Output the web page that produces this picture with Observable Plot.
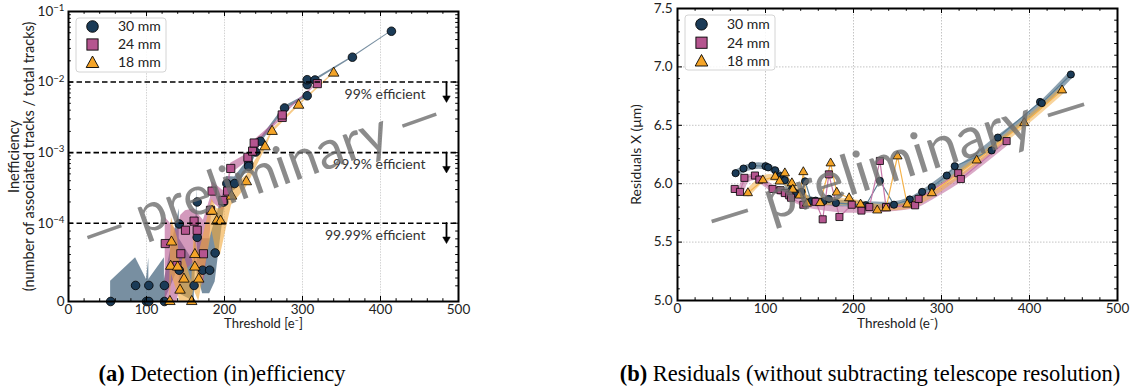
<!DOCTYPE html>
<html><head><meta charset="utf-8">
<script src="https://cdn.jsdelivr.net/npm/d3@7"></script>
<script src="https://cdn.jsdelivr.net/npm/@observablehq/plot@0.6"></script>
<style>
body{margin:0;background:#fff;}
#wrap{position:relative;width:1145px;height:392px;overflow:hidden;font-family:Lato,sans-serif;}
.panel{position:absolute;top:0;}
.legend{position:absolute;}
.caption{position:absolute;top:361px;font-family:"Liberation Serif","Times New Roman",serif;font-size:22.5px;line-height:26px;white-space:nowrap;transform:translateX(-50%);color:#000;}
</style></head><body><div id="wrap"></div>
<script>
// ---------- shared ----------
const seriesNames = ["30 mm", "24 mm", "18 mm"];
const seriesFill = ["#1b3b57", "#b5558f", "#f4a428"];
const seriesBand = ["#1e4562", "#b5558f", "#f2a93b"];
const seriesThin = ["#5d7f95", "#c878aa", "#f5b34c"];
const xTicks = [0, 100, 200, 300, 400, 500];
const xGrid = [100, 200, 300, 400];

// ---------- panel (a): detection inefficiency ----------
const effThr30 = [54,86,100,103,103,123,123,142,142,161,165,165,172,181,188,199,203,213,231,231,240,246,277,306,306,306,316,364,414];
const effVal30 = [0,2.05e-5,0,2.05e-5,0,2.05e-5,0,9.9e-5,4.0e-5,2.05e-5,2.0e-4,8.2e-5,4.0e-5,4.0e-5,6.2e-5,2.0e-4,3.65e-4,3.65e-4,7.0e-4,6.4e-4,1.02e-3,1.45e-3,4.3e-3,6.4e-3,9.2e-3,1.08e-2,1.07e-2,2.25e-2,5.25e-2];
const effLo30  = [0,0,0,0,0,0,0,4.5e-5,1e-5,0,1.1e-4,3.5e-5,1e-5,1e-5,2.5e-5,1.4e-4,2.8e-4,2.9e-4,6.0e-4,5.5e-4,9.2e-4,1.33e-3,4.05e-3,6.1e-3,8.85e-3,1.04e-2,1.03e-2,2.19e-2,5.15e-2];
const effHi30  = [2.6e-5,5.6e-5,2.8e-5,5.6e-5,2.8e-5,5.6e-5,2.8e-5,1.6e-4,8e-5,5e-5,3.2e-4,1.3e-4,8e-5,8e-5,1.1e-4,2.8e-4,4.6e-4,4.5e-4,8.1e-4,7.4e-4,1.12e-3,1.58e-3,4.55e-3,6.7e-3,9.55e-3,1.12e-2,1.11e-2,2.31e-2,5.35e-2];

const effThr24 = [124,139,144,150,161,165,173,182,184,198,204,208,230,236,238,274,274,319];
const effVal24 = [7.4e-5,4.6e-5,6.1e-5,9.1e-5,1.07e-4,9.1e-5,6.1e-5,1.52e-4,2.85e-4,2.1e-4,2.85e-4,5.97e-4,8.6e-4,1.05e-3,1.37e-3,3.15e-3,3.42e-3,9.5e-3];
const effLo24  = [0,0,2e-5,4e-5,5e-5,4e-5,2e-5,9e-5,2e-4,1.5e-4,2.2e-4,5e-4,7.6e-4,9.5e-4,1.26e-3,3.0e-3,3.27e-3,9.2e-3];
const effHi24  = [1.2e-4,9e-5,1.3e-4,1.5e-4,1.6e-4,1.4e-4,1.1e-4,2.3e-4,3.9e-4,2.9e-4,3.7e-4,7.1e-4,9.7e-4,1.16e-3,1.49e-3,3.3e-3,3.57e-3,9.8e-3];

const effThr18 = [130,131,132,140,143,148,158,162,162,167,184,190,195,209,228,252,261,295,340];
const effVal18 = [0,4.5e-5,7.6e-5,4.4e-5,1.45e-5,2.86e-5,0,6.0e-5,4.4e-5,2.86e-5,1.48e-4,1.07e-4,1.07e-4,2.42e-4,3.87e-4,1.21e-3,2.0e-3,4.7e-3,1.34e-2];
const effLo18  = [0,1e-5,3.5e-5,1e-5,0,0,0,2.5e-5,1.2e-5,0,9e-5,6e-5,6e-5,1.8e-4,3.2e-4,1.1e-3,1.88e-3,4.5e-3,1.3e-2];
const effHi18  = [2.5e-5,8e-5,1.2e-4,8e-5,4e-5,6e-5,2.5e-5,1.05e-4,8e-5,6e-5,2.2e-4,1.6e-4,1.6e-4,3.2e-4,4.7e-4,1.33e-3,2.13e-3,4.9e-3,1.38e-2];

const effLevels = [1e-2, 1e-3, 1e-4];
const effLabels = ["99% efficient", "99.9% efficient", "99.99% efficient"];
const effYTicks = [0, 1e-4, 1e-3, 1e-2, 1e-1];
const effYLabels = ["0", "10^\u22124", "10^\u22123", "10^\u22122", "10^\u22121"];
const effYMinor = [2e-5,3e-5,4e-5,5e-5,6e-5,7e-5,8e-5,9e-5,
  2e-4,3e-4,4e-4,5e-4,6e-4,7e-4,8e-4,9e-4,
  2e-3,3e-3,4e-3,5e-3,6e-3,7e-3,8e-3,9e-3,
  2e-2,3e-2,4e-2,5e-2,6e-2,7e-2,8e-2,9e-2];

// ---------- panel (b): residuals ----------
const resThr30 = [66,75,85,100,103,111,117,122,130,134,141,145,152,157,166,172,180,214,230,246,264,278,289,306,315,357,364,412,414,447];
const resVal30 = [6.09,6.13,6.155,6.15,6.14,6.115,6.065,6.03,5.95,5.92,5.93,6.02,5.85,5.855,5.85,5.87,5.835,5.815,6.025,5.82,5.865,5.93,5.97,6.07,6.15,6.285,6.395,6.70,6.69,6.935];
const resThr24 = [65,71,76,88,93,108,117,122,127,129,143,157,165,172,184,198,209,218,230,237,270,274,319,322,374];
const resVal24 = [5.955,5.93,6.05,6.07,6.035,5.955,5.945,5.92,5.9,5.88,5.82,5.845,5.695,6.08,5.715,5.82,5.77,5.8,6.195,5.8,5.815,5.87,6.09,6.04,6.365];
const resThr18 = [80,97,111,116,122,130,131,139,143,147,162,174,181,195,208,227,237,250,261,289,340,394,437];
const resVal18 = [5.92,6.03,6.06,6.02,6.09,6.005,5.95,5.9,6.1,5.83,5.835,6.175,5.925,5.877,5.823,5.772,5.79,6.235,5.823,5.92,6.2,6.52,6.8];

const smoothThr30 = [66,80,92,104,116,128,140,155,175,200,225,245,265,285,305,330,360,390,415,447];
const smoothVal30 = [6.09,6.14,6.155,6.14,6.08,5.97,5.9,5.855,5.84,5.83,5.82,5.82,5.86,5.95,6.06,6.18,6.36,6.53,6.69,6.935];
const smoothThr24 = [65,71,77,88,95,108,120,130,145,165,190,215,240,270,290,320,374];
const smoothVal24 = [5.955,5.94,6.03,6.06,6.03,5.96,5.92,5.88,5.83,5.8,5.78,5.78,5.79,5.82,5.9,6.04,6.36];
const smoothThr18 = [80,90,100,112,122,132,145,160,180,200,225,245,265,290,340,394,437];
const smoothVal18 = [5.92,6.0,6.05,6.05,6.02,5.96,5.88,5.84,5.85,5.84,5.8,5.8,5.82,5.92,6.2,6.52,6.8];

const resYTicks = [5.0, 5.5, 6.0, 6.5, 7.0, 7.5];
const resYMinor = [5.1,5.2,5.3,5.4,5.6,5.7,5.8,5.9,6.1,6.2,6.3,6.4,6.6,6.7,6.8,6.9,7.1,7.2,7.3,7.4];
const resYGrid = [5.5, 6.0, 6.5, 7.0];

// ---------- helpers ----------
const symbols = ["circle", "square", "triangle"];
const rows = (t, v, lo, hi) => t.map((x, i) => ({t: x, v: v[i], lo: lo ? lo[i] : null, hi: hi ? hi[i] : null}));
const eff = [rows(effThr30, effVal30, effLo30, effHi30), rows(effThr24, effVal24, effLo24, effHi24), rows(effThr18, effVal18, effLo18, effHi18)];
const res = [rows(resThr30, resVal30), rows(resThr24, resVal24), rows(resThr18, resVal18)];
const smooth = [rows(smoothThr30, smoothVal30), rows(smoothThr24, smoothVal24), rows(smoothThr18, smoothVal18)];
const xMinor = d3.range(0, 501, 20).filter(d => d % 100 !== 0);

function frameTicks(xMaj, xMin, yMaj, yMin, fw, fh, fy) {
  const m = [];
  const s = {stroke: "black", strokeWidth: 1};
  m.push(Plot.tickX(xMaj, {x: d => d, insetTop: fh - 5, ...s}));
  m.push(Plot.tickX(xMaj, {x: d => d, insetBottom: fh - 5, ...s}));
  m.push(Plot.tickX(xMin, {x: d => d, insetTop: fh - 2.8, ...s}));
  m.push(Plot.tickX(xMin, {x: d => d, insetBottom: fh - 2.8, ...s}));
  m.push(Plot.tickY(yMaj, {y: fy, insetRight: fw - 5, ...s}));
  m.push(Plot.tickY(yMaj, {y: fy, insetLeft: fw - 5, ...s}));
  m.push(Plot.tickY(yMin, {y: fy, insetRight: fw - 2.8, ...s}));
  m.push(Plot.tickY(yMin, {y: fy, insetLeft: fw - 2.8, ...s}));
  return m;
}

const wrap = document.getElementById("wrap");
const baseStyle = {fontFamily: "Lato, sans-serif", fontSize: "13.5px", color: "#222", background: "transparent", overflow: "visible"};
const svgNS = "http://www.w3.org/2000/svg";

// ---------- left plot ----------
// matplotlib-like symlog: linear below 1e-4, log above
const LIN = 78 / 70.3;
const tY = v => v <= 1e-4 ? (v / 1e-4) * LIN : LIN + Math.log10(v / 1e-4);
const lfw = 390, lfh = 290;
const leftMarks = [];
leftMarks.push(Plot.ruleX(xGrid, {x: d => d, stroke: "#c8c8c8", strokeWidth: 0.8, strokeDasharray: "1.5,1.2"}));
[0, 1, 2].forEach(k => leftMarks.push(Plot.areaY(eff[k], {x: "t", y1: d => tY(d.lo), y2: d => tY(d.hi), fill: seriesBand[k], fillOpacity: 0.6})));
const effR = [4.3, 4.6, 3.9];
[0, 1, 2].forEach(k => leftMarks.push(Plot.dot(eff[k], {x: "t", y: d => tY(d.v), symbol: symbols[k], r: effR[k], fill: seriesFill[k], stroke: "black", strokeWidth: 0.8})));
leftMarks.push(Plot.ruleY(effLevels, {y: d => tY(d), stroke: "black", strokeWidth: 1.6, strokeDasharray: "5.5,3"}));
leftMarks.push(Plot.text(effLevels, {y: d => tY(d), text: (d, i) => effLabels[i], frameAnchor: "right", dx: -33, dy: 12, textAnchor: "end", fontSize: 14, fill: "#333"}));
leftMarks.push(Plot.vector(effLevels, {y: d => tY(d), frameAnchor: "right", dx: -12, length: 15, rotate: 180, anchor: "start", shape: "spike", r: 0.01, stroke: "black", strokeWidth: 1.8}));
leftMarks.push(Plot.dot(effLevels, {y: d => tY(d), frameAnchor: "right", dx: -12, dy: 16, symbol: "triangle2", rotate: 180, r: 3.6, fill: "black", stroke: "black", strokeWidth: 0.5}));
leftMarks.push(...frameTicks(xTicks, xMinor, effYTicks, effYMinor, lfw, lfh, d => tY(d)));
leftMarks.push(Plot.axisX({ticks: xTicks, tickSize: 0, tickPadding: 3, label: null, fontSize: 13.5}));
leftMarks.push(Plot.axisY({ticks: effYTicks.map(tY), tickSize: 0, tickPadding: 4, label: null, fontSize: 13.5, tickFormat: (d, i) => effYLabels[i]}));
leftMarks.push(Plot.text(["Inefficiency\n(number of associated tracks / total tracks)"], {text: d => d, frameAnchor: "left", dx: -47, rotate: -90, textAnchor: "middle", fontSize: 14.5, lineHeight: 1.05, fill: "#222"}));
leftMarks.push(Plot.text(["Threshold [e\u207B]"], {text: d => d, frameAnchor: "bottom", dy: 26, fontSize: 13, fill: "#222"}));
leftMarks.push(Plot.text(["\u2014 preliminary \u2014"], {text: d => d, frameAnchor: "middle", textAnchor: "middle", dy: 18, dx: -2, rotate: -19.5, fontSize: 54, fill: "#6e6e6e", fillOpacity: 0.8, fontFamily: "Lato, sans-serif"}));
leftMarks.push(Plot.frame({stroke: "black", strokeWidth: 2}));

const left = Plot.plot({
  width: 470, height: 340,
  marginLeft: 68, marginRight: 12, marginTop: 11, marginBottom: 39,
  style: baseStyle,
  x: {domain: [0, 500], axis: null},
  y: {domain: [0, LIN + 3], axis: null},
  marks: leftMarks
});
left.classList.add("panel");
left.style.left = "0px";
wrap.appendChild(left);

// superscripts in the y tick labels
left.querySelectorAll("text").forEach(t => {
  const m = t.textContent.match(/^10\^(.+)$/);
  if (m) {
    t.textContent = "10";
    const ts = document.createElementNS(svgNS, "tspan");
    ts.setAttribute("dy", "-0.5em");
    ts.setAttribute("font-size", "0.72em");
    ts.textContent = m[1];
    t.appendChild(ts);
  }
});

// ---------- right plot ----------
const rfw = 440, rfh = 292;
const rightMarks = [];
rightMarks.push(Plot.ruleX(xGrid, {x: d => d, stroke: "#b5b5b5", strokeWidth: 0.8, strokeDasharray: "1.5,1.5"}));
rightMarks.push(Plot.ruleY(resYGrid, {y: d => d, stroke: "#b5b5b5", strokeWidth: 0.8, strokeDasharray: "1.5,1.5"}));
[0, 1, 2].forEach(k => rightMarks.push(Plot.line(smooth[k], {x: "t", y: "v", stroke: seriesBand[k], strokeOpacity: 0.5, strokeWidth: 6.5, curve: "catmull-rom"})));
[0, 1, 2].forEach(k => rightMarks.push(Plot.line(res[k], {x: "t", y: "v", stroke: seriesThin[k], strokeWidth: 1.2})));
const resR = [3.6, 4.0, 3.4];
[0, 1, 2].forEach(k => rightMarks.push(Plot.dot(res[k], {x: "t", y: "v", symbol: symbols[k], r: resR[k], fill: seriesFill[k], stroke: "black", strokeWidth: 0.8})));
rightMarks.push(...frameTicks(xTicks, xMinor, resYTicks, resYMinor, rfw, rfh, d => d));
rightMarks.push(Plot.axisX({ticks: xTicks, tickSize: 0, tickPadding: 3, label: null, fontSize: 13.5}));
rightMarks.push(Plot.axisY({ticks: resYTicks, tickSize: 0, tickPadding: 5, label: null, fontSize: 13.5, tickFormat: d3.format(".1f")}));
rightMarks.push(Plot.text(["Residuals X (\u03BCm)"], {text: d => d, frameAnchor: "left", dx: -41, rotate: -90, textAnchor: "middle", fontSize: 14, fill: "#222"}));
rightMarks.push(Plot.text(["Threshold (e\u207B)"], {text: d => d, frameAnchor: "bottom", dy: 27, fontSize: 13.5, fill: "#222"}));
rightMarks.push(Plot.text(["\u2014 preliminary \u2014"], {text: d => d, frameAnchor: "middle", textAnchor: "middle", dy: 7, rotate: -17.5, fontSize: 57, fill: "#6e6e6e", fillOpacity: 0.8, fontFamily: "Lato, sans-serif"}));
rightMarks.push(Plot.frame({stroke: "black", strokeWidth: 2}));

const right = Plot.plot({
  width: 545, height: 340,
  marginLeft: 77, marginRight: 28, marginTop: 8, marginBottom: 40,
  style: baseStyle,
  x: {domain: [0, 500], axis: null},
  y: {domain: [5, 7.5], axis: null},
  marks: rightMarks
});
right.classList.add("panel");
right.style.left = "600px";
wrap.appendChild(right);

// ---------- legends ----------
function legend(x, y, w, h, mx, tx, rowY) {
  const svg = document.createElementNS(svgNS, "svg");
  svg.setAttribute("width", w + 2); svg.setAttribute("height", h + 2);
  svg.setAttribute("class", "legend");
  svg.style.left = (x - 1) + "px"; svg.style.top = (y - 1) + "px";
  const box = document.createElementNS(svgNS, "rect");
  box.setAttribute("x", 1); box.setAttribute("y", 1); box.setAttribute("width", w); box.setAttribute("height", h);
  box.setAttribute("rx", 3); box.setAttribute("fill", "rgba(255,255,255,0.85)"); box.setAttribute("stroke", "#d4d4d4");
  svg.appendChild(box);
  seriesNames.forEach((name, k) => {
    const cy = rowY[k] + 1, cx = mx + 1;
    let el;
    if (k === 0) { el = document.createElementNS(svgNS, "circle"); el.setAttribute("cx", cx); el.setAttribute("cy", cy); el.setAttribute("r", 5.8); }
    else if (k === 1) { el = document.createElementNS(svgNS, "rect"); el.setAttribute("x", cx - 5.6); el.setAttribute("y", cy - 5.6); el.setAttribute("width", 11.2); el.setAttribute("height", 11.2); }
    else { el = document.createElementNS(svgNS, "polygon"); el.setAttribute("points", `${cx},${cy - 6.5} ${cx + 6.3},${cy + 5} ${cx - 6.3},${cy + 5}`); }
    el.setAttribute("fill", seriesFill[k]); el.setAttribute("stroke", "black"); el.setAttribute("stroke-width", 0.9);
    svg.appendChild(el);
    const t = document.createElementNS(svgNS, "text");
    t.setAttribute("x", tx + 1); t.setAttribute("y", cy); t.setAttribute("dy", "0.35em");
    t.setAttribute("font-family", "Lato, sans-serif"); t.setAttribute("font-size", 14); t.setAttribute("fill", "#222");
    t.textContent = name;
    svg.appendChild(t);
  });
  wrap.appendChild(svg);
}
legend(76, 18, 90, 54, 16.5, 42, [8.5, 26.5, 44.5]);
legend(685, 15, 90, 55, 16.5, 42, [9.3, 27.7, 46]);

// ---------- captions ----------
function caption(cx, label, text) {
  const d = document.createElement("div");
  d.className = "caption";
  d.style.left = cx + "px";
  const b = document.createElement("b"); b.textContent = label;
  d.appendChild(b);
  d.appendChild(document.createTextNode(" " + text));
  wrap.appendChild(d);
}
caption(222, "(a)", "Detection (in)efficiency");
caption(870, "(b)", "Residuals (without subtracting telescope resolution)");
</script></body></html>
